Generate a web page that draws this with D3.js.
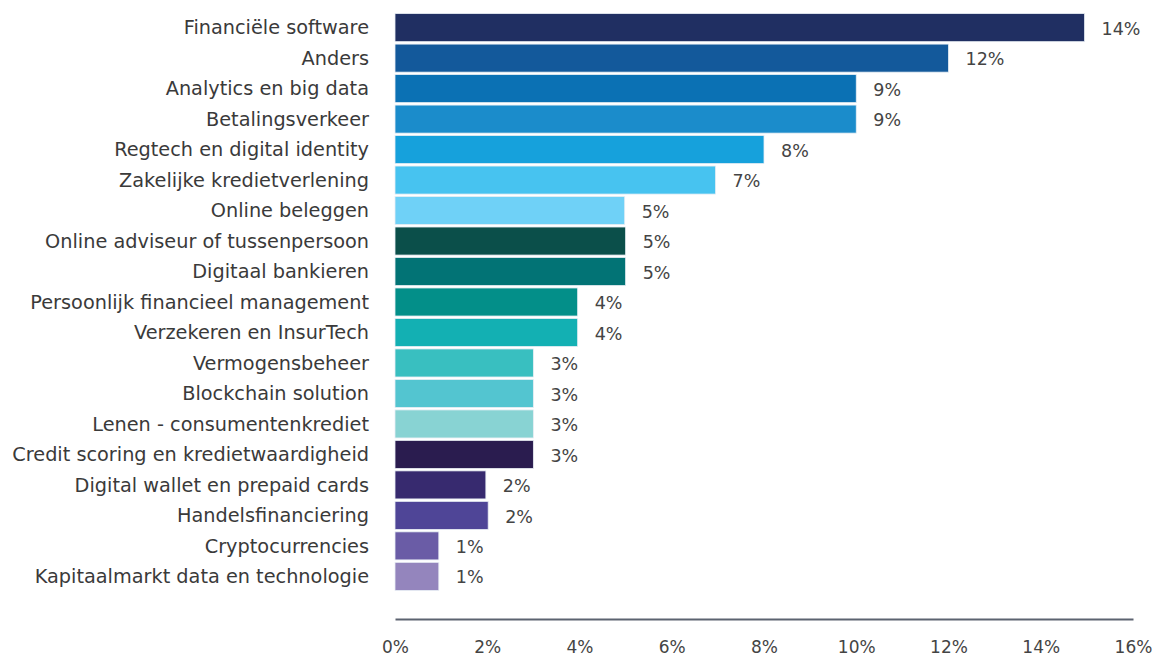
<!DOCTYPE html>
<html>
<head>
<meta charset="utf-8">
<script src="https://cdn.jsdelivr.net/npm/d3@7"></script>
<style>
  body { margin: 0; background: #fff; }
  text { font-family: "DejaVu Sans", sans-serif; }
</style>
</head>
<body>
<div id="chart"></div>
<script>
const categories = [
  "Financiële software", "Anders", "Analytics en big data", "Betalingsverkeer",
  "Regtech en digital identity", "Zakelijke kredietverlening", "Online beleggen",
  "Online adviseur of tussenpersoon", "Digitaal bankieren",
  "Persoonlijk financieel management", "Verzekeren en InsurTech", "Vermogensbeheer",
  "Blockchain solution", "Lenen - consumentenkrediet",
  "Credit scoring en kredietwaardigheid", "Digital wallet en prepaid cards",
  "Handelsfinanciering", "Cryptocurrencies", "Kapitaalmarkt data en technologie"
];
const values = [14.95, 12, 10, 10, 8, 6.95, 4.98, 5, 5, 3.96, 3.96, 3, 3, 3, 3, 1.97, 2.02, 0.95, 0.95];
const valueLabels = ["14%", "12%", "9%", "9%", "8%", "7%", "5%", "5%", "5%", "4%", "4%",
  "3%", "3%", "3%", "3%", "2%", "2%", "1%", "1%"];
const colors = ["#202f62", "#13599b", "#0b71b4", "#1b8ccb", "#16a1dc", "#47c3f0", "#6fd1f7",
  "#0b4f4a", "#027375", "#038f89", "#13b0b3", "#39bfc0", "#53c5d0", "#88d3d3",
  "#2a1c4f", "#372a6f", "#4f4597", "#6a5ca6", "#9485bd"];
const xTicks = [0, 2, 4, 6, 8, 10, 12, 14, 16];

const width = 1157, height = 657;
const svg = d3.select("#chart").append("svg")
  .attr("width", width)
  .attr("height", height);

const x = d3.scaleLinear().domain([0, 16]).range([395, 1133]);
const y = d3.scaleBand().domain(categories).range([13, 591]).paddingInner(0.08).paddingOuter(0.02);

// bars
svg.selectAll("rect.bar")
  .data(categories)
  .join("rect")
    .attr("class", "bar")
    .attr("x", x(0))
    .attr("y", d => y(d))
    .attr("width", (d, i) => x(values[i]) - x(0))
    .attr("height", y.bandwidth())
    .attr("fill", (d, i) => colors[i])
    .attr("stroke", "#e8eef4")
    .attr("stroke-width", 0.8);

// category labels
svg.selectAll("text.cat")
  .data(categories)
  .join("text")
    .attr("class", "cat")
    .attr("x", 369)
    .attr("y", d => y(d) + y.bandwidth() / 2)
    .attr("dy", "0.35em")
    .attr("text-anchor", "end")
    .attr("font-size", 19.3)
    .attr("fill", "#3a3a3a")
    .text(d => d);

// value labels
svg.selectAll("text.val")
  .data(categories)
  .join("text")
    .attr("class", "val")
    .attr("x", (d, i) => x(values[i]) + 17)
    .attr("y", d => y(d) + y.bandwidth() / 2 + 1)
    .attr("dy", "0.35em")
    .attr("font-size", 17.5)
    .attr("fill", "#444")
    .text((d, i) => valueLabels[i]);

// x axis
const xAxis = svg.append("g")
  .attr("transform", "translate(0,619)")
  .call(d3.axisBottom(x).tickValues(xTicks).tickSize(0).tickPadding(22).tickFormat(d => d + "%"));
xAxis.select(".domain").attr("stroke", "#5c6370").attr("stroke-width", 2);
xAxis.selectAll("text")
  .attr("font-size", 17)
  .attr("fill", "#444")
  .style("font-family", "'DejaVu Sans', sans-serif");
</script>
</body>
</html>
